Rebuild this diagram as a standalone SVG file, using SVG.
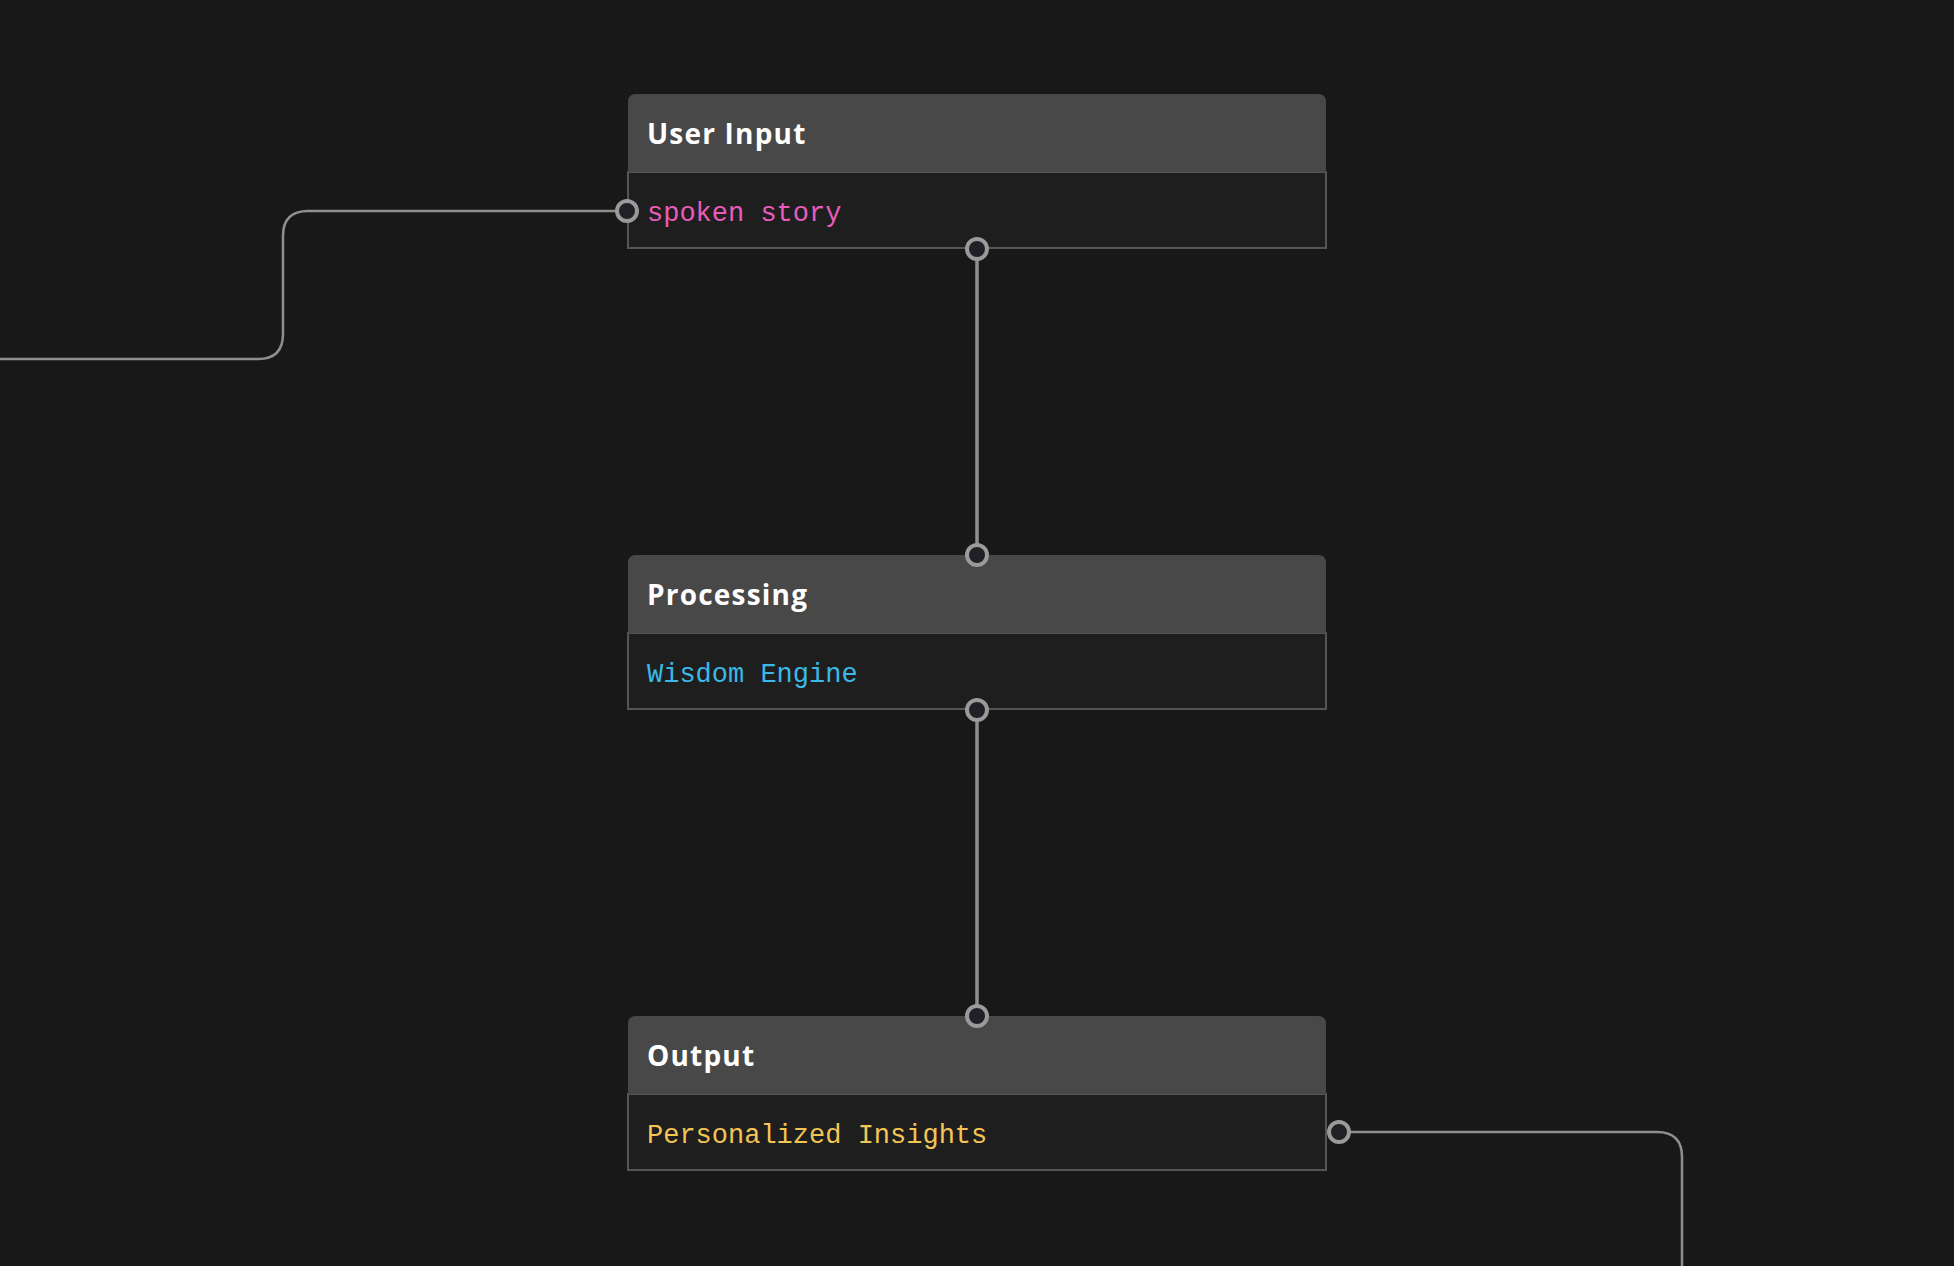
<svg xmlns="http://www.w3.org/2000/svg" width="1954" height="1266" viewBox="0 0 1954 1266">
<style>
.hdr{fill:#484848}
.body{fill:#1e1e1e;stroke:#555;stroke-width:2}
.title{font-family:"Open Sans",Inter,sans-serif;font-weight:700;font-size:28px;letter-spacing:1.2px;fill:#fff}
.mono{font-family:"Liberation Mono","DejaVu Sans Mono",monospace;font-size:27px}
.port{fill:#1f2126;stroke:#9a9a9a;stroke-width:4}
.wire{fill:none;stroke:#8f8f8f;stroke-width:2.5}
.vwire{fill:none;stroke:#8f8f8f;stroke-width:3.5}
</style>
<rect width="1954" height="1266" fill="#181818"/>
<g id="connectors">
<path class="wire" d="M627 211 H308 Q283 211 283 236 V334 Q283 359 258 359 H0"/>
<path class="vwire" d="M977 249 V555"/>
<path class="vwire" d="M977 710 V1016"/>
<path class="wire" d="M1339 1132 H1657 Q1682 1132 1682 1157 V1266"/>
</g>
<g id="node-user-input">
<rect class="body" x="628" y="172" width="698" height="76"/>
<path class="hdr" d="M628 172 V102 Q628 94 636 94 H1318 Q1326 94 1326 102 V172 Z"/>
<text class="title" x="647" y="144">User Input</text>
<text class="mono" x="647" y="221" fill="#e85cbc">spoken story</text>
</g>
<g id="node-processing">
<rect class="body" x="628" y="633" width="698" height="76"/>
<path class="hdr" d="M628 633 V563 Q628 555 636 555 H1318 Q1326 555 1326 563 V633 Z"/>
<text class="title" x="647" y="605">Processing</text>
<text class="mono" x="647" y="682" fill="#3cb8e6">Wisdom Engine</text>
</g>
<g id="node-output">
<rect class="body" x="628" y="1094" width="698" height="76"/>
<path class="hdr" d="M628 1094 V1024 Q628 1016 636 1016 H1318 Q1326 1016 1326 1024 V1094 Z"/>
<text class="title" x="647" y="1066">Output</text>
<text class="mono" x="647" y="1143" fill="#f3c553">Personalized Insights</text>
</g>
<g id="ports">
<circle class="port" cx="627" cy="211" r="10"/>
<circle class="port" cx="977" cy="249" r="10"/>
<circle class="port" cx="977" cy="555" r="10"/>
<circle class="port" cx="977" cy="710" r="10"/>
<circle class="port" cx="977" cy="1016" r="10"/>
<circle class="port" cx="1339" cy="1132" r="10"/>
</g>
</svg>
